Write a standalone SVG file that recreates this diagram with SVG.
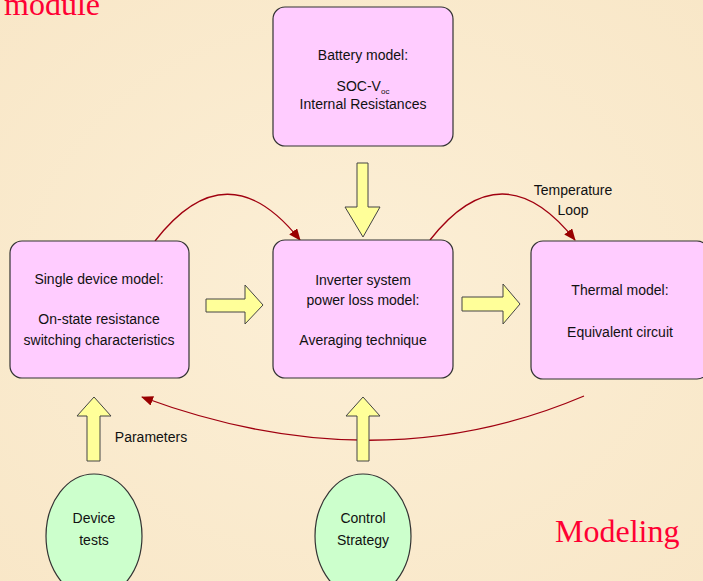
<svg xmlns="http://www.w3.org/2000/svg" width="703" height="581" viewBox="0 0 703 581">
<defs>
<style>
.box{fill:#FFCCFF;stroke:#333;stroke-width:1.2}
.ell{fill:#CCFFCC;stroke:#333;stroke-width:1.2}
.yarrow{fill:#FFFF99;stroke:#444;stroke-width:1}
.t{font-family:"Liberation Sans",Arial,sans-serif;font-size:14px;fill:#111;text-anchor:middle}
.red{font-family:"Liberation Serif","Times New Roman",serif;font-size:32px;fill:#FF0033}
.curve{fill:none;stroke:#A00010;stroke-width:1.3}
</style>
<marker id="ah" viewBox="0 0 12 10" refX="11" refY="5" markerWidth="12" markerHeight="10" markerUnits="userSpaceOnUse" orient="auto">
<path d="M0,0 L12,5 L0,10 Z" fill="#990000"/>
</marker>
<radialGradient id="bg" cx="0.5" cy="0.5" r="0.8">
<stop offset="0" stop-color="#FCEFD6"/>
<stop offset="1" stop-color="#F8E6C6"/>
</radialGradient>
</defs>
<rect x="0" y="0" width="703" height="581" fill="url(#bg)"/>

<text class="red" x="4" y="15">module</text>
<text class="red" x="555" y="542">Modeling</text>

<g id="connectors">
<path class="curve" d="M155,241 Q227,148 300,240" marker-end="url(#ah)"/>
<path class="curve" d="M430,240 Q502,148 575,240" marker-end="url(#ah)"/>
<path class="curve" d="M584,396 Q377,484 142,397" marker-end="url(#ah)"/>
<path class="yarrow" d="M357,163 H368 V207 H380 L363,237 L345,207 H357 Z"/>
<path class="yarrow" d="M206,299 H245 V285 L263,305 L245,324 V312 H206 Z"/>
<path class="yarrow" d="M462,297 H503 V284 L520,304 L503,324 V311 H462 Z"/>
<path class="yarrow" d="M87,461 V416 H77 L94,397 L111,416 H100 V461 Z"/>
<path class="yarrow" d="M357,461 V416 H346 L363,397 L380,416 H369 V461 Z"/>
<text class="t" x="573" y="195">Temperature</text>
<text class="t" x="573" y="215">Loop</text>
<text class="t" x="151" y="442">Parameters</text>
</g>

<g id="battery">
<rect class="box" x="273" y="7" width="180" height="139" rx="12"/>
<text class="t" x="363" y="60">Battery model:</text>
<text class="t" x="363" y="91">SOC-V<tspan font-size="8" dy="3">oc</tspan></text>
<text class="t" x="363" y="109">Internal Resistances</text>
</g>

<g id="single-device">
<rect class="box" x="10" y="241" width="179" height="137" rx="12"/>
<text class="t" x="99" y="284">Single device model:</text>
<text class="t" x="99" y="324">On-state resistance</text>
<text class="t" x="99" y="345">switching characteristics</text>
</g>

<g id="inverter">
<rect class="box" x="273" y="240" width="180" height="138" rx="12"/>
<text class="t" x="363" y="285">Inverter system</text>
<text class="t" x="363" y="305">power loss model:</text>
<text class="t" x="363" y="345">Averaging technique</text>
</g>

<g id="thermal">
<rect class="box" x="531" y="241" width="178" height="138" rx="12"/>
<text class="t" x="620" y="295">Thermal model:</text>
<text class="t" x="620" y="337">Equivalent circuit</text>
</g>

<g id="device-tests">
<ellipse class="ell" cx="94" cy="536" rx="48" ry="62"/>
<text class="t" x="94" y="523">Device</text>
<text class="t" x="94" y="545">tests</text>
</g>

<g id="control-strategy">
<ellipse class="ell" cx="363" cy="536" rx="48" ry="62"/>
<text class="t" x="363" y="523">Control</text>
<text class="t" x="363" y="545">Strategy</text>
</g>
</svg>
